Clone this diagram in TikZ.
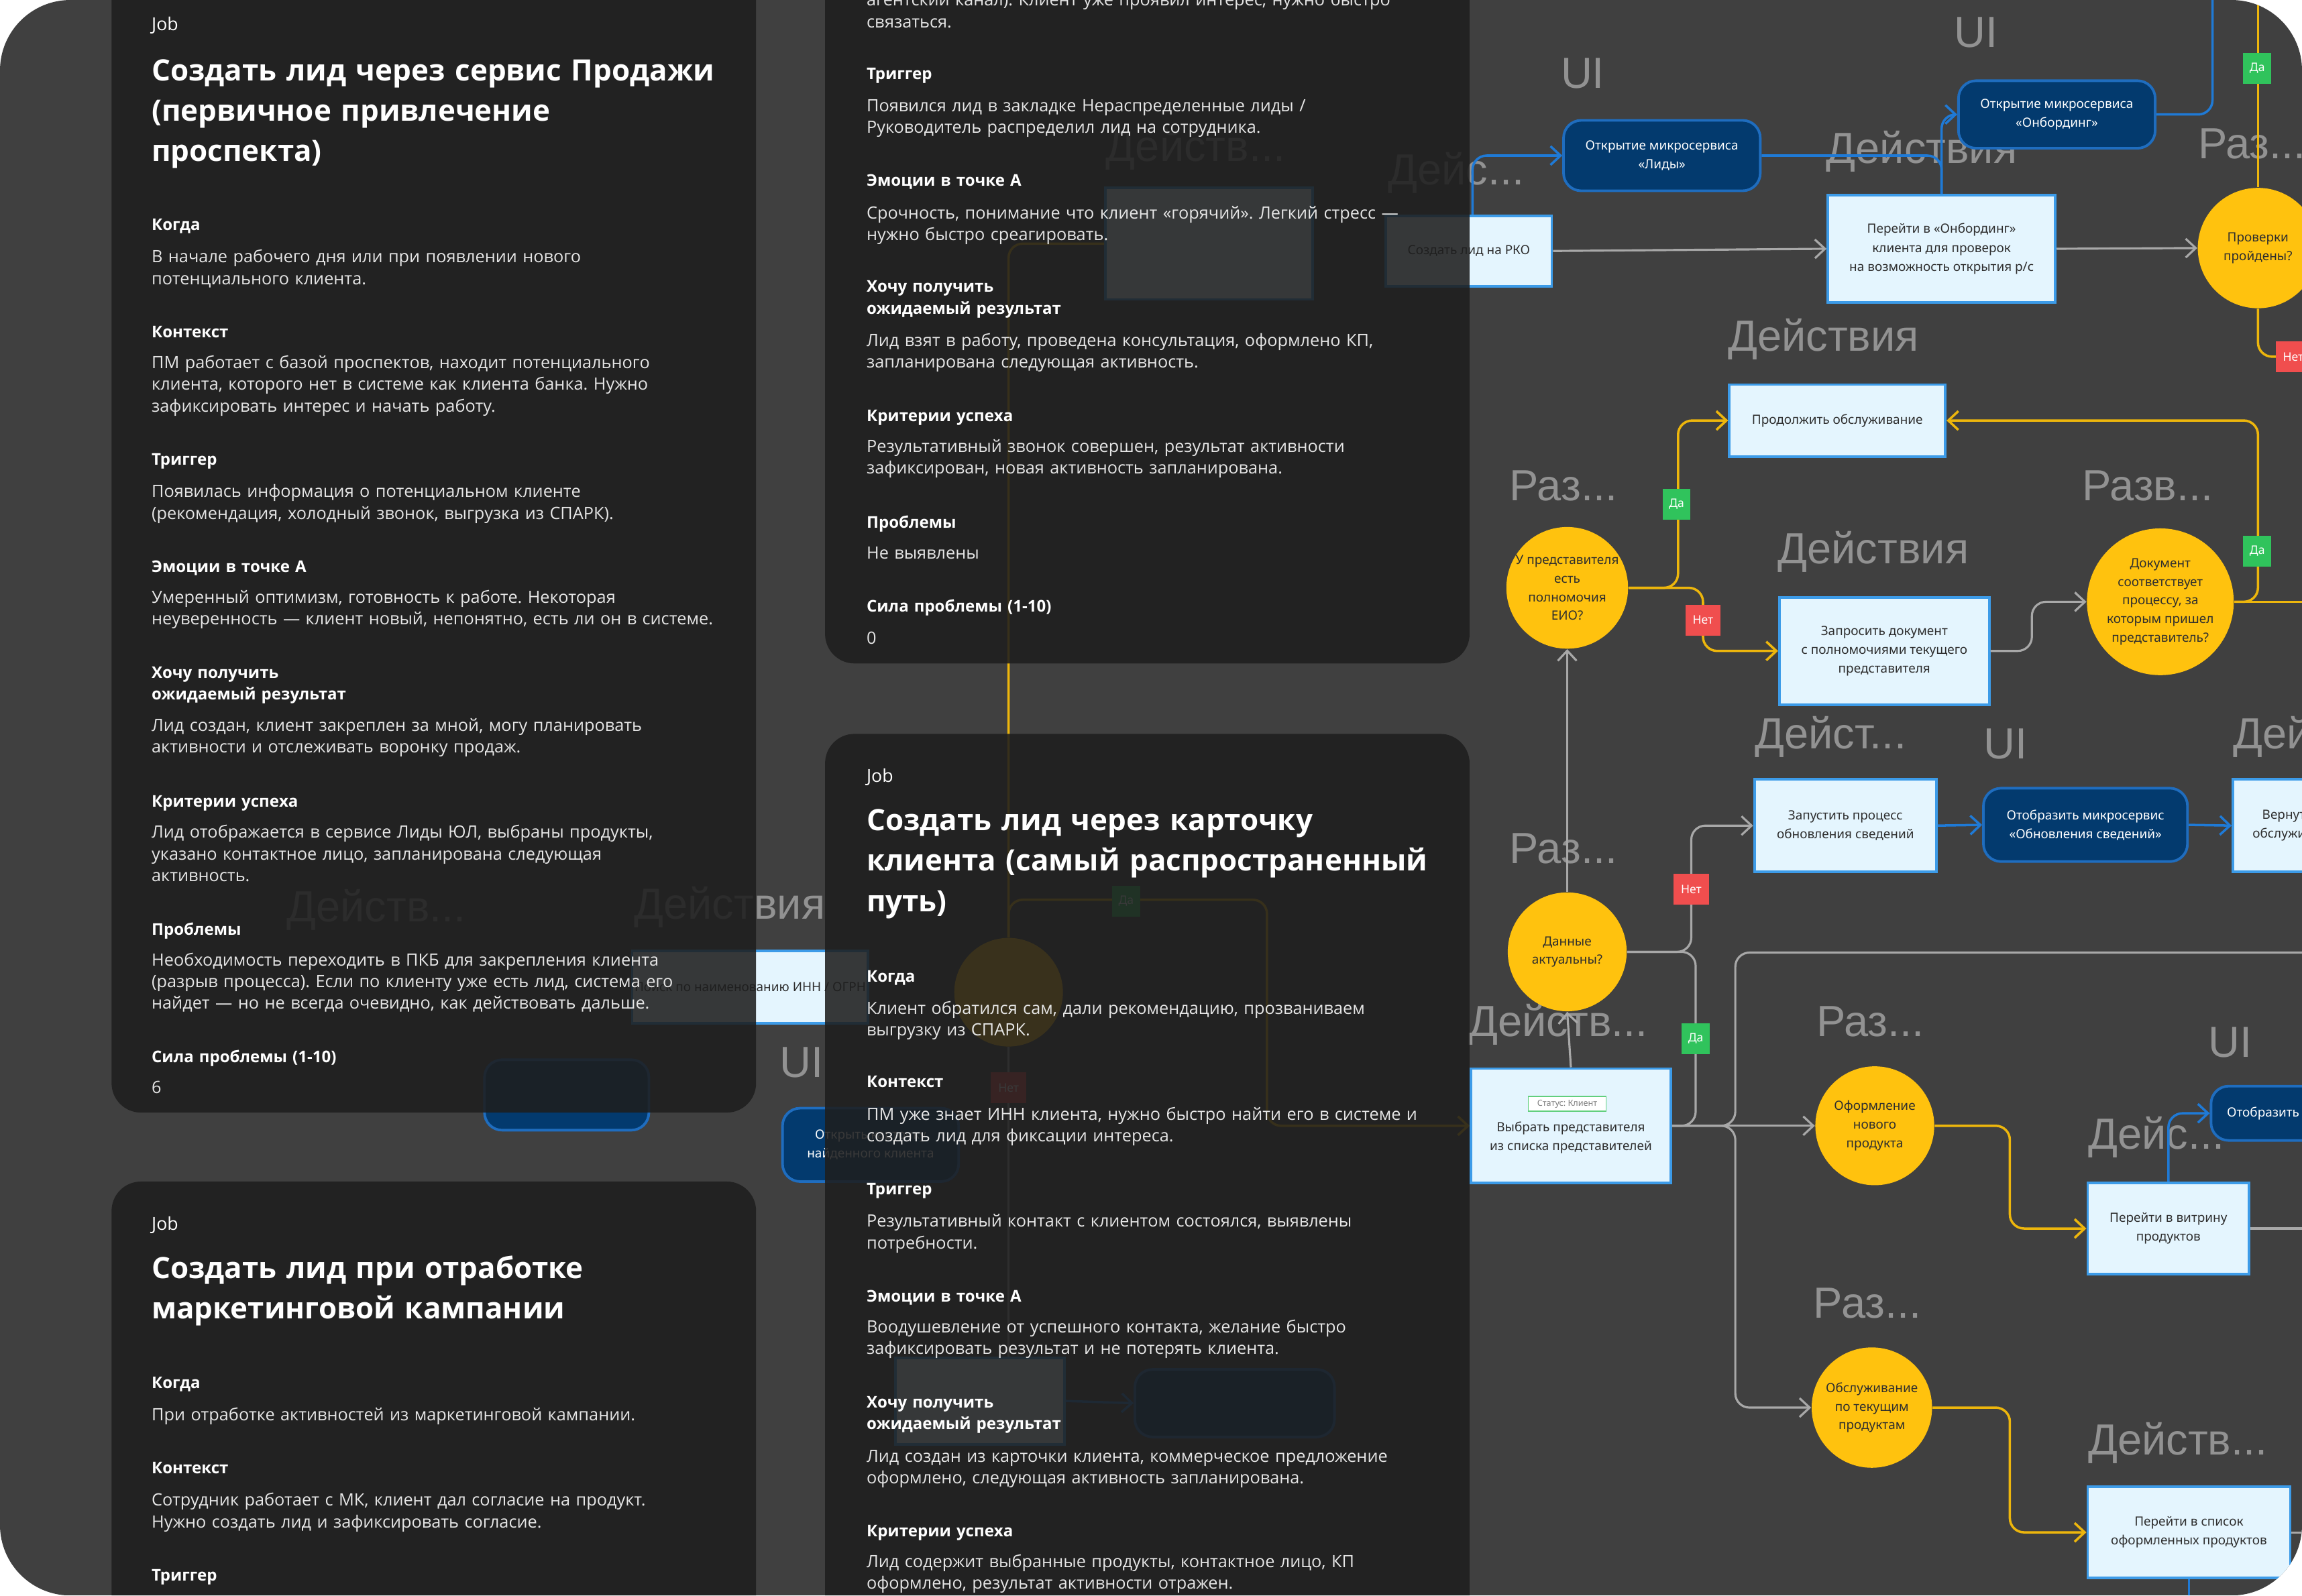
\documentclass[tikz,border=0pt]{standalone}
\usepackage{fontspec}
\setmainfont{Open Sans}
\newfontfamily\lanefont{Liberation Sans}
\newfontfamily\flowfont{Noto Sans}
\usetikzlibrary{arrows.meta,shapes.geometric}
\frenchspacing

\newlength\pxu
\setlength\pxu{0.02189cm}

\definecolor{canvasbg}{HTML}{404040}
\definecolor{cardfill}{HTML}{1E1E1E}
\definecolor{bodytext}{HTML}{E6E6E6}
\definecolor{actfill}{HTML}{E4F5FE}
\definecolor{actline}{HTML}{3C9BE8}
\definecolor{uifill}{HTML}{033A6E}
\definecolor{uiline}{HTML}{1F6DBF}
\definecolor{decfill}{HTML}{FFC20E}
\definecolor{yesgreen}{HTML}{30C35C}
\definecolor{nored}{HTML}{F04E4E}
\definecolor{flowgrayclr}{HTML}{A8A8A8}
\definecolor{flowyellowclr}{HTML}{EDB60C}
\definecolor{flowblueclr}{HTML}{1F7AD6}
\definecolor{lanegray}{HTML}{929292}
\definecolor{nodetext}{HTML}{2E2E2E}
\definecolor{statusline}{HTML}{62CF7E}

\tikzset{
  actbox/.style 2 args={
    draw=actline,
    fill=actfill,
    line width=1.1pt,
    minimum width=#1\pxu,
    minimum height=#2\pxu,
    inner sep=1pt,
    align=center,
    text=nodetext,
    font=\flowfont\fontsize{5.4}{8}\selectfont
  },
  uibox/.style 2 args={
    draw=uiline,
    fill=uifill,
    line width=1.1pt,
    rounded corners=12\pxu,
    minimum width=#1\pxu,
    minimum height=#2\pxu,
    inner sep=1pt,
    align=center,
    text=white,
    font=\flowfont\fontsize{5.4}{8}\selectfont
  },
  decision/.style={
    circle,
    fill=decfill,
    minimum size=#1\pxu,
    inner sep=0pt,
    align=center,
    text=nodetext,
    font=\flowfont\fontsize{5.4}{7.9}\selectfont
  },
  yestag/.style={
    fill=yesgreen,
    text=white,
    minimum width=19\pxu,
    minimum height=21\pxu,
    inner sep=0pt,
    font=\flowfont\fontsize{5}{6}\selectfont
  },
  notag/.style={
    fill=nored,
    text=white,
    minimum width=24\pxu,
    minimum height=21\pxu,
    inner sep=0pt,
    font=\flowfont\fontsize{5}{6}\selectfont
  },
  statustag/.style={
    draw=statusline,
    fill=white,
    text=gray,
    minimum width=53\pxu,
    minimum height=10\pxu,
    inner sep=0pt,
    line width=0.5pt,
    font=\flowfont\fontsize{3.6}{4}\selectfont
  },
  lanelabel/.style={text=lanegray, inner sep=0pt, font=\lanefont\fontsize{18.5}{20}\selectfont},
  flowgray/.style={->, draw=flowgrayclr, line width=0.9pt, rounded corners=6pt},
  flowyellow/.style={->, draw=flowyellowclr, line width=1pt, rounded corners=6pt},
  flowblue/.style={->, draw=flowblueclr, line width=1pt, rounded corners=6pt},
  card/.style={fill=cardfill, fill opacity=0.88, rounded corners=20\pxu},
  jobtag/.style={anchor=base west, inner sep=0pt, text=white, font=\fontsize{7.6}{9}\selectfont},
  jobtitle/.style={anchor=base west, inner sep=0pt, text=white, align=left, text width=11cm,
    font=\fontsize{12.5}{17.1}\selectfont\bfseries},
  sechead/.style={anchor=base west, inner sep=0pt, text=white, align=left, text width=11cm,
    font=\fontsize{6.85}{9.3}\selectfont\bfseries},
  sectext/.style={anchor=base west, inner sep=0pt, text=bodytext, align=left, text width=11cm,
    font=\fontsize{7.2}{9.2}\selectfont}
}

\begin{document}
\begin{tikzpicture}[x=0.02189cm, y=-0.02189cm, >={Straight Barb[length=1.5mm,width=2.8mm]}]
  \useasboundingbox (0,0) rectangle (1568,1087);
  \fill[white] (0,0) rectangle (1568,1087);
  \begin{scope}
  \clip[rounded corners=48\pxu] (0,0) rectangle (1568,1087);
  \fill[canvasbg] (0,0) rectangle (1568,1087);

  % lane titles of the map
  \node[lanelabel] (lbUIa) at (1078,50) {UI};
  \node[lanelabel] (lbUIb) at (1346,22) {UI};
  \node[lanelabel, anchor=west] (lbAc1) at (945,118) {Дейс...};
  \node[lanelabel] (lbAc2) at (1309,103) {Действия};
  \node[lanelabel, anchor=west] (lbRz1) at (1497,98) {Раз...};
  \node[lanelabel] (lbAc3) at (1242,231) {Действия};
  \node[lanelabel, anchor=west] (lbRz2) at (1028,331) {Раз...};
  \node[lanelabel, anchor=west] (lbRz3) at (1418,331) {Разв...};
  \node[lanelabel] (lbAc4) at (1276,376) {Действия};
  \node[lanelabel, anchor=west] (lbAc5) at (1195,502) {Дейст...};
  \node[lanelabel] (lbUIc) at (1366,507) {UI};
  \node[lanelabel, anchor=west] (lbAc6) at (1521,502) {Действия};
  \node[lanelabel, anchor=west] (lbRz4) at (1028,578) {Раз...};
  \node[lanelabel, anchor=west] (lbAc7) at (1000,698) {Действ...};
  \node[lanelabel, anchor=west] (lbRz5) at (1237,696) {Раз...};
  \node[lanelabel] (lbUId) at (1519,710) {UI};
  \node[lanelabel, anchor=west] (lbAc8) at (1422,775) {Дейс...};
  \node[lanelabel, anchor=west] (lbRz6) at (1235,888) {Раз...};
  \node[lanelabel, anchor=west] (lbAc9) at (1422,983) {Действ...};
  \node[lanelabel] (lbUIe) at (1437,1100) {UI};
  \node[lanelabel, anchor=west] (lbAc10) at (753,102) {Действ...};
  \node[lanelabel] (lbAc11) at (497,618) {Действия};
  \node[lanelabel, anchor=west] (lbAc12) at (195,620) {Действ...};
  \node[lanelabel] (lbUIf) at (546,724) {UI};

  % steps
  \node[actbox={113}{48}] (rko) at (1000.5,171) {Создать лид на РКО};
  \node[actbox={155}{73}] (perejti) at (1322.5,169.5) {Перейти в «Онбординг»\\клиента для проверок\\на возможность открытия р/с};
  \node[actbox={147}{49}] (prod) at (1251.5,286.5) {Продолжить обслуживание};
  \node[actbox={143}{73}] (zapr) at (1283.5,443.5) {Запросить документ\\с полномочиями текущего\\представителя};
  \node[actbox={124}{63}] (zap) at (1257,562.5) {Запустить процесс\\обновления сведений};
  \node[actbox={90}{63}] (vern) at (1566,562.5) {Вернуться к\\обслуживанию};
  \node[actbox={136}{78}] (vybr) at (1070,767) {};
  \node[statustag] (vstat) at (1067.5,752) {Статус: Клиент};
  \node[align=center, inner sep=0pt, text=nodetext, font=\flowfont\fontsize{5.4}{8}\selectfont] (vtext) at (1070,775) {Выбрать представителя\\из списка представителей};
  \node[actbox={110}{62}] (vitr) at (1477,837) {Перейти в витрину\\продуктов};
  \node[actbox={138}{62}] (spis) at (1491,1044) {Перейти в список\\оформленных продуктов};
  \node[actbox={141}{76}] (b0) at (823.5,166) {};
  \node[actbox={158}{49}] (innbox) at (511,672.5) {Поиск по наименованию ИНН / ОГРН};
  \node[actbox={115}{59}] (gbox) at (667.5,954.5) {};

  % screens
  \node[uibox={134}{48}] (lidy) at (1132,106) {Открытие микросервиса\\«Лиды»};
  \node[uibox={134}{46}] (onb) at (1401,78) {Открытие микросервиса\\«Онбординг»};
  \node[uibox={139}{50}] (otob) at (1420.5,562) {Отобразить микросервис\\«Обновления сведений»};
  \node[uibox={108}{37}] (otob2) at (1560,758.5) {Отобразить витрину};
  \node[uibox={120}{50}] (fnd) at (593,780) {Открыть карточку\\найденного клиента};
  \node[uibox={112}{48}] (ulnode) at (386,746) {};
  \node[uibox={136}{46}] (bn2) at (841,956) {};

  % checks
  \node[decision=82] (chk) at (1538,169) {Проверки\\пройдены?};
  \node[decision=81] (eio) at (1067.5,400.5) {У представителя\\есть\\полномочия\\ЕИО?};
  \node[decision=100] (doc) at (1471.5,410) {Документ\\соответствует\\процессу, за\\которым пришел\\представитель?};
  \node[decision=81] (act) at (1067.5,648.5) {Данные\\актуальны?};
  \node[decision=81] (ofor) at (1277,767) {Оформление\\нового\\продукта};
  \node[decision=82] (obsl) at (1275,959) {Обслуживание\\по текущим\\продуктам};
  \node[decision=74] (yc) at (687,676) {};

  \coordinate (topY) at (1538,-10);
  \coordinate (topB) at (1507,-10);
  \coordinate (offB) at (1600,243);
  \coordinate (offC) at (1600,410);
  \coordinate (offD) at (1600,649);
  \coordinate (offE) at (1600,837);
  \coordinate (offF) at (1600,1044);
  \coordinate (offG) at (1491,1100);

  \draw[flowgray] (rko.east) -- (perejti.west);
  \draw[flowgray] (perejti.east) -- (chk.west);
  \draw[flowblue] ([xshift=2.5\pxu]rko.north) |- (lidy.west);
  \draw[flowblue, -] (lidy.east) -| (perejti.north);
  \draw[flowblue] (perejti.north) |- (onb.west);
  \draw[flowblue, -] (onb.east) -| (topB);
  \draw[flowyellow, -] (chk.north) -- (topY);
  \draw[flowyellow, -] (chk.south) |- (offB);
  \draw[flowyellow] (eio.east) -- (1143,400.5) |- (prod.west);
  \draw[flowyellow] (eio.east) -- (1160,400.5) |- (zapr.west);
  \draw[flowgray] (zapr.east) -- (1384,443.5) |- (doc.west);
  \draw[flowyellow, -] (doc.east) -- (offC);
  \draw[flowyellow] (doc.east) -- (1538,410) |- (prod.east);
  \draw[flowgray] (act.north) -- (eio.south);
  \draw[flowgray] (vybr.north) -- (act.south);
  \draw[flowgray] (act.east) -- (1152,648.5) |- (zap.west);
  \draw[flowgray, -] (act.east) -- (1155,648.5) |- (vybr.east);
  \draw[flowgray] (vybr.east) -- (ofor.west);
  \draw[flowgray, -] (vybr.east) -- (1182,767) |- (offD);
  \draw[flowgray] (vybr.east) -- (1182,767) |- (obsl.west);
  \draw[flowblue] (zap.east) -- (otob.west);
  \draw[flowblue] (otob.east) -- (vern.west);
  \draw[flowyellow] (ofor.east) -- (1369,767) |- (vitr.west);
  \draw[flowyellow] (obsl.east) -- (1369,959) |- (spis.west);
  \draw[flowblue] (vitr.north) |- (otob2.west);
  \draw[flowgray, -] (vitr.east) -- (offE);
  \draw[flowgray, -] (spis.east) -- (offF);
  \draw[flowblue, -] (spis.south) -- (offG);
  \draw[flowyellow, -] (yc.north) |- (b0.west);
  \draw[flowyellow] (yc.north) -- (687,613) -- (863,613) |- (vybr.west);
  \draw[flowgray, -] (yc.south) -- (yc.south |- gbox.north);
  \draw[flowblue] (gbox.east) -- (bn2.west);

  % answers
  \node[yestag] (t1) at (1537.5,46.5) {Да};
  \node[notag] (t2) at (1562,243) {Нет};
  \node[yestag] (t3) at (1142,343.5) {Да};
  \node[notag] (t4) at (1160,422.5) {Нет};
  \node[yestag] (t5) at (1537.5,375.5) {Да};
  \node[notag] (t6) at (1152,606) {Нет};
  \node[yestag] (t7) at (1155,707.5) {Да};
  \node[yestag] (t8) at (767,614) {Да};
  \node[notag] (t9) at (687,741) {Нет};

  % job cards
  \fill[card] (76,-20) rectangle (515,758);
  \fill[card] (76,805) rectangle (515,1120);
  \fill[card] (562,-30) rectangle (1001,452);
  \fill[card] (562,500) rectangle (1001,1120);

  \node[jobtag] (c1job) at (103,21) {Job};
  \node[jobtitle] (c1title) at (103,55) {Создать лид через сервис Продажи\\(первичное привлечение\\проспекта)};
  \node[sechead] (c1whenh) at (103,157) {Когда};
  \node[sectext] (c1when) at (103,179) {В начале рабочего дня или при появлении нового\\потенциального клиента.};
  \node[sechead] (c1ctxh) at (103,230) {Контекст};
  \node[sectext] (c1ctx) at (103,251) {ПМ работает с базой проспектов, находит потенциального\\клиента, которого нет в системе как клиента банка. Нужно\\зафиксировать интерес и начать работу.};
  \node[sechead] (c1trgh) at (103,317) {Триггер};
  \node[sectext] (c1trg) at (103,339) {Появилась информация о потенциальном клиенте\\(рекомендация, холодный звонок, выгрузка из СПАРК).};
  \node[sechead] (c1emoh) at (103,390) {Эмоции в точке А};
  \node[sectext] (c1emo) at (103,411) {Умеренный оптимизм, готовность к работе. Некоторая\\неуверенность — клиент новый, непонятно, есть ли он в системе.};
  \node[sechead] (c1wanth) at (103,462) {Хочу получить\\ожидаемый результат};
  \node[sectext] (c1want) at (103,498) {Лид создан, клиент закреплен за мной, могу планировать\\активности и отслеживать воронку продаж.};
  \node[sechead] (c1succh) at (103,550) {Критерии успеха};
  \node[sectext] (c1succ) at (103,571) {Лид отображается в сервисе Лиды ЮЛ, выбраны продукты,\\указано контактное лицо, запланирована следующая\\активность.};
  \node[sechead] (c1probh) at (103,637) {Проблемы};
  \node[sectext] (c1prob) at (103,658) {Необходимость переходить в ПКБ для закрепления клиента\\(разрыв процесса). Если по клиенту уже есть лид, система его\\найдет — но не всегда очевидно, как действовать дальше.};
  \node[sechead] (c1forceh) at (103,724) {Сила проблемы (1-10)};
  \node[sectext] (c1force) at (103,745) {6};

  \node[jobtag] (c2job) at (103,838) {Job};
  \node[jobtitle] (c2title) at (103,871) {Создать лид при отработке\\маркетинговой кампании};
  \node[sechead] (c2whenh) at (103,946) {Когда};
  \node[sectext] (c2when) at (103,968) {При отработке активностей из маркетинговой кампании.};
  \node[sechead] (c2ctxh) at (103,1004) {Контекст};
  \node[sectext] (c2ctx) at (103,1026) {Сотрудник работает с МК, клиент дал согласие на продукт.\\Нужно создать лид и зафиксировать согласие.};
  \node[sechead] (c2trgh) at (103,1077) {Триггер};

  \node[sectext] (c3ctx) at (590,4) {агентский канал). Клиент уже проявил интерес, нужно быстро\\связаться.};
  \node[sechead] (c3trgh) at (590,54) {Триггер};
  \node[sectext] (c3trg) at (590,76) {Появился лид в закладке Нераспределенные лиды /\\Руководитель распределил лид на сотрудника.};
  \node[sechead] (c3emoh) at (590,127) {Эмоции в точке А};
  \node[sectext] (c3emo) at (590,149) {Срочность, понимание что клиент «горячий». Легкий стресс —\\нужно быстро среагировать.};
  \node[sechead] (c3wanth) at (590,199) {Хочу получить\\ожидаемый результат};
  \node[sectext] (c3want) at (590,236) {Лид взят в работу, проведена консультация, оформлено КП,\\запланирована следующая активность.};
  \node[sechead] (c3succh) at (590,287) {Критерии успеха};
  \node[sectext] (c3succ) at (590,308) {Результативный звонок совершен, результат активности\\зафиксирован, новая активность запланирована.};
  \node[sechead] (c3probh) at (590,360) {Проблемы};
  \node[sectext] (c3prob) at (590,381) {Не выявлены};
  \node[sechead] (c3forceh) at (590,417) {Сила проблемы (1-10)};
  \node[sectext] (c3force) at (590,439) {0};

  \node[jobtag] (c4job) at (590,533) {Job};
  \node[jobtitle] (c4title) at (590,566) {Создать лид через карточку\\клиента (самый распространенный\\путь)};
  \node[sechead] (c4whenh) at (590,669) {Когда};
  \node[sectext] (c4when) at (590,691) {Клиент обратился сам, дали рекомендацию, прозваниваем\\выгрузку из СПАРК.};
  \node[sechead] (c4ctxh) at (590,741) {Контекст};
  \node[sectext] (c4ctx) at (590,763) {ПМ уже знает ИНН клиента, нужно быстро найти его в системе и\\создать лид для фиксации интереса.};
  \node[sechead] (c4trgh) at (590,814) {Триггер};
  \node[sectext] (c4trg) at (590,836) {Результативный контакт с клиентом состоялся, выявлены\\потребности.};
  \node[sechead] (c4emoh) at (590,887) {Эмоции в точке А};
  \node[sectext] (c4emo) at (590,908) {Воодушевление от успешного контакта, желание быстро\\зафиксировать результат и не потерять клиента.};
  \node[sechead] (c4wanth) at (590,959) {Хочу получить\\ожидаемый результат};
  \node[sectext] (c4want) at (590,996) {Лид создан из карточки клиента, коммерческое предложение\\оформлено, следующая активность запланирована.};
  \node[sechead] (c4succh) at (590,1047) {Критерии успеха};
  \node[sectext] (c4succ) at (590,1068) {Лид содержит выбранные продукты, контактное лицо, КП\\оформлено, результат активности отражен.};
  \end{scope}
\end{tikzpicture}
\end{document}
